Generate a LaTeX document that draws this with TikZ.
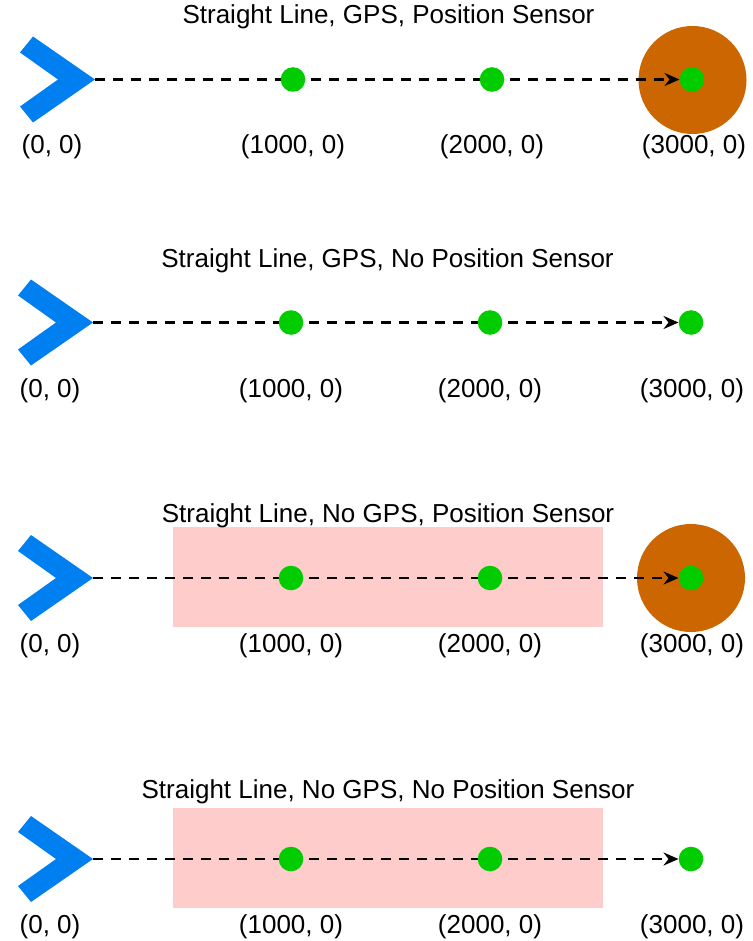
\documentclass[tikz,border=0pt]{standalone}
\usepackage{fontspec}
\setmainfont{Liberation Sans}
\usetikzlibrary{arrows.meta}
\definecolor{chev}{RGB}{0,127,240}
\definecolor{dotgreen}{RGB}{0,204,0}
\definecolor{sensor}{RGB}{204,102,0}
\definecolor{nogps}{RGB}{255,204,204}
\pgfdeclarelayer{bg}
\pgfdeclarelayer{mid}
\pgfsetlayers{bg,mid,main}
\begin{document}
\begin{tikzpicture}[x=1pt,y=-1pt,
  wp/.style={circle,fill=dotgreen,minimum size=24.6pt,inner sep=0pt},
  sensorzone/.style={circle,fill=sensor,minimum size=108pt,inner sep=0pt},
  gpsgap/.style={fill=nogps,inner sep=0pt,minimum width=430pt,minimum height=99.4pt},
  title/.style={anchor=base,inner sep=0pt,font=\fontsize{26}{31}\selectfont},
  coordlabel/.style={anchor=base,inner sep=0pt,font=\fontsize{26}{31}\selectfont},
  route/.style={line width=2.8pt,dash pattern=on 10pt off 8pt},
  lastleg/.style={route,-{Stealth[length=15pt,width=13pt,inset=5pt]}},
  chevron/.style={fill=chev}]
\useasboundingbox (0,0) rectangle (752,941);

% ---------- Panel 1 ----------
\node[title] (ta) at (388.5,24) {Straight Line, GPS, Position Sensor};
\coordinate (tipA) at (95,79.5);
\fill[chevron,shift={(tipA)}] (-62,-43) -- (0,0) -- (-62,43) -- (-75,27) -- (-37,0) -- (-75,-27) -- cycle;
\node[wp] (a1) at (293,79.5) {};
\node[wp] (a2) at (492,79.5) {};
\node[wp] (a3) at (692,79.5) {};
\begin{pgfonlayer}{bg}
  \node[sensorzone] (sa) at (692.5,80) {};
\end{pgfonlayer}
\begin{pgfonlayer}{mid}
  \draw[route] (tipA) -- (a1.center) -- (a2.center);
  \draw[lastleg] (a2.center) -- (a3);
\end{pgfonlayer}
\node[coordlabel] (la0) at (52,154) {(0, 0)};
\node[coordlabel] (la1) at (293,154) {(1000, 0)};
\node[coordlabel] (la2) at (492,154) {(2000, 0)};
\node[coordlabel] (la3) at (694,154) {(3000, 0)};

% ---------- Panel 2 ----------
\node[title] (tb) at (387.5,267) {Straight Line, GPS, No Position Sensor};
\coordinate (tipB) at (93,322.5);
\fill[chevron,shift={(tipB)}] (-62,-43) -- (0,0) -- (-62,43) -- (-75,27) -- (-37,0) -- (-75,-27) -- cycle;
\node[wp] (b1) at (291,322.5) {};
\node[wp] (b2) at (490,322.5) {};
\node[wp] (b3) at (691,322.5) {};
\begin{pgfonlayer}{mid}
  \draw[route] (tipB) -- (b1.center) -- (b2.center);
  \draw[lastleg] (b2.center) -- (b3);
\end{pgfonlayer}
\node[coordlabel] (lb0) at (50,397) {(0, 0)};
\node[coordlabel] (lb1) at (291,397) {(1000, 0)};
\node[coordlabel] (lb2) at (490,397) {(2000, 0)};
\node[coordlabel] (lb3) at (692,397) {(3000, 0)};

% ---------- Panel 3 ----------
\node[title] (tc) at (388,522) {Straight Line, No GPS, Position Sensor};
\coordinate (tipC) at (93,578);
\fill[chevron,shift={(tipC)}] (-62,-43) -- (0,0) -- (-62,43) -- (-75,27) -- (-37,0) -- (-75,-27) -- cycle;
\node[wp] (c1) at (291,578) {};
\node[wp] (c2) at (490,578) {};
\node[wp] (c3) at (691,578) {};
\begin{pgfonlayer}{bg}
  \node[gpsgap] (gc) at (388.3,577) {};
  \node[sensorzone] (sc) at (691,578) {};
\end{pgfonlayer}
\begin{pgfonlayer}{mid}
  \draw[route] (tipC) -- (c1.center) -- (c2.center);
  \draw[lastleg] (c2.center) -- (c3);
\end{pgfonlayer}
\node[coordlabel] (lc0) at (50,652) {(0, 0)};
\node[coordlabel] (lc1) at (291,652) {(1000, 0)};
\node[coordlabel] (lc2) at (490,652) {(2000, 0)};
\node[coordlabel] (lc3) at (692,652) {(3000, 0)};

% ---------- Panel 4 ----------
\node[title] (td) at (388,798) {Straight Line, No GPS, No Position Sensor};
\coordinate (tipD) at (93,859);
\fill[chevron,shift={(tipD)}] (-62,-43) -- (0,0) -- (-62,43) -- (-75,27) -- (-37,0) -- (-75,-27) -- cycle;
\node[wp] (d1) at (291,859) {};
\node[wp] (d2) at (490,859) {};
\node[wp] (d3) at (691,859) {};
\begin{pgfonlayer}{bg}
  \node[gpsgap] (gd) at (388.3,858) {};
\end{pgfonlayer}
\begin{pgfonlayer}{mid}
  \draw[route] (tipD) -- (d1.center) -- (d2.center);
  \draw[lastleg] (d2.center) -- (d3);
\end{pgfonlayer}
\node[coordlabel] (ld0) at (50,933) {(0, 0)};
\node[coordlabel] (ld1) at (291,933) {(1000, 0)};
\node[coordlabel] (ld2) at (490,933) {(2000, 0)};
\node[coordlabel] (ld3) at (692,933) {(3000, 0)};
\end{tikzpicture}
\end{document}
